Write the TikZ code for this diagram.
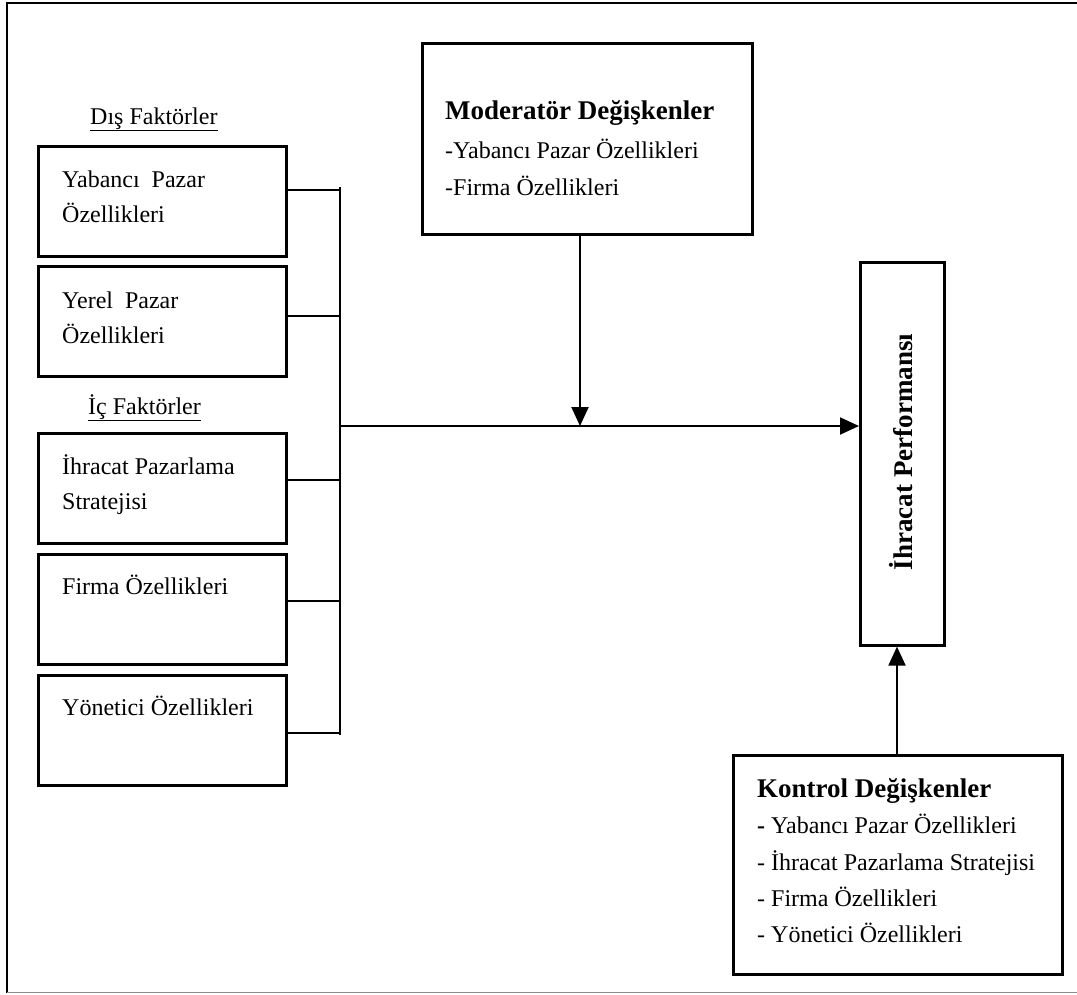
\documentclass[tikz,border=0pt]{standalone}
\usepackage{fontspec}
\setmainfont{Liberation Serif}
\usetikzlibrary{arrows.meta}
\begin{document}
\begin{tikzpicture}[x=1pt,y=-1pt,
  box/.style={draw,line width=2.6pt,rectangle,inner sep=0pt,anchor=north west},
  leftbox/.style={box,minimum width=248pt,minimum height=110pt},
  wire/.style={line width=2pt},
  arr/.style={wire,-{Triangle[width=17pt,length=19pt]}},
  txt/.style={anchor=base west,inner sep=0pt,font=\fontsize{24}{28}\selectfont},
  head/.style={anchor=base west,inner sep=0pt,font=\fontsize{27}{32}\selectfont\bfseries},
]
\useasboundingbox (0,0) rectangle (1077,994);

% outer frame
\draw[line width=2.6pt] (1077,3) -- (7,3) -- (7,993);
\draw[line width=1pt,black!45] (7,992) -- (1077,992);

% group labels
\node[txt] (dis) at (90,124) {\underline{Dış Faktörler}};
\node[txt] (ic)  at (88,414) {\underline{İç Faktörler}};

% factor boxes
\node[leftbox] (b1) at (37,145) {};
\node[leftbox] (b2) at (37,265) {};
\node[leftbox] (b3) at (37,432) {};
\node[leftbox] (b4) at (37,553) {};
\node[leftbox] (b5) at (37,674) {};

\node[txt] (t1a) at (62,187) {Yabancı~ Pazar};
\node[txt] (t1b) at (62,222) {Özellikleri};
\node[txt] (t2a) at (62,308) {Yerel~ Pazar};
\node[txt] (t2b) at (62,343) {Özellikleri};
\node[txt] (t3a) at (62,474) {İhracat Pazarlama};
\node[txt] (t3b) at (62,509) {Stratejisi};
\node[txt] (t4)  at (62,594) {Firma Özellikleri};
\node[txt] (t5)  at (62,715) {Yönetici Özellikleri};

% collecting bus
\coordinate (busTop) at (340,187);
\coordinate (busBot) at (340,735);
\coordinate (j1) at (340,190);
\coordinate (j2) at (340,316);
\coordinate (j3) at (340,480);
\coordinate (j4) at (340,601);
\coordinate (j5) at (340,733);
\coordinate (jm) at (340,426);
\coordinate (mm) at (580,426);

\draw[wire] (busTop) -- (busBot);
\draw[wire] (b1.east |- j1) -- (j1);
\draw[wire] (b2.east |- j2) -- (j2);
\draw[wire] (b3.east |- j3) -- (j3);
\draw[wire] (b4.east |- j4) -- (j4);
\draw[wire] (b5.east |- j5) -- (j5);

% moderator box
\node[box,minimum width=330pt,minimum height=191pt] (mod) at (421,42) {};
\node[head] (modh) at (445,119) {Moderatör Değişkenler};
\node[txt] (mod1) at (445,158) {-Yabancı Pazar Özellikleri};
\node[txt] (mod2) at (445,195) {-Firma Özellikleri};

% outcome box
\node[box,minimum width=84pt,minimum height=383pt] (perf) at (859,261) {};
\node[rotate=90,inner sep=0pt,font=\fontsize{27}{32}\selectfont\bfseries] (perft)
  at (901,452) {İhracat Performansı};

% control box
\node[box,minimum width=329pt,minimum height=219pt] (ctrl) at (732,754) {};
\node[head] (ctrlh) at (757,797) {Kontrol Değişkenler};
\node[txt] (c1) at (757,833) {\textbf{-} Yabancı Pazar Özellikleri};
\node[txt] (c2) at (757,870) {- İhracat Pazarlama Stratejisi};
\node[txt] (c3) at (757,906) {- Firma Özellikleri};
\node[txt] (c4) at (757,942) {- Yönetici Özellikleri};

% arrows
\draw[arr] (jm) -- (perf.west |- jm);
\draw[arr] (mod.south -| mm) -- (mm);
\draw[arr] (ctrl.north -| 897,0) -- (perf.south -| 897,0);
\end{tikzpicture}
\end{document}
